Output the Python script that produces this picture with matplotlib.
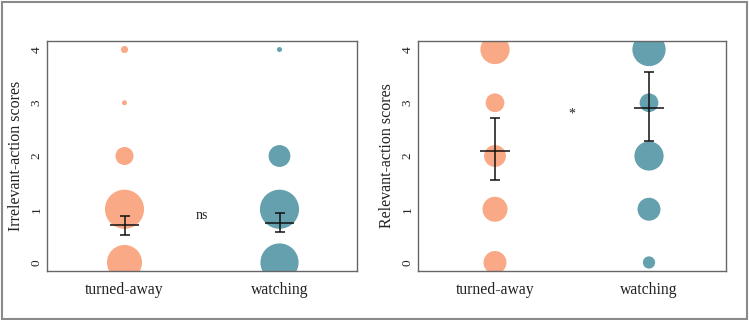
import numpy as np
import matplotlib
matplotlib.use("Agg")
import matplotlib.pyplot as plt
from matplotlib.patches import Rectangle

plt.rcParams['font.family'] = ['Liberation Serif', 'DejaVu Serif']

groups = ["turned-away", "watching"]
scores = [0, 1, 2, 3, 4]

# counts per score (bubble area)
irr_turned = [49, 61, 13, 1, 2]
irr_watch = [58, 61, 19, 0, 1]
rel_turned = [21, 25, 19, 14, 34]
rel_watch = [6, 21, 34, 14, 44]

# mean and interval limits
irr_mean = [0.71, 0.75]
irr_lo = [0.52, 0.58]
irr_hi = [0.88, 0.93]
rel_mean = [2.10, 2.90]
rel_lo = [1.55, 2.29]
rel_hi = [2.72, 3.57]

irr_sig = "ns"
rel_sig = "*"

c_turned = "#F9A985"
c_watch = "#64A0AD"


def panel(ax, counts, means, lo, hi, sig, sig_y, ylabel):
    for i, (n, col) in enumerate(zip(counts, [c_turned, c_watch])):
        n = np.array(n, dtype=float)
        keep = n > 0
        ax.scatter(np.full(keep.sum(), i + 1), np.array(scores)[keep],
                   s=13 * n[keep], color=col, edgecolors="none", zorder=2)
    x = np.arange(1, 3)
    m = np.array(means)
    ax.errorbar(x, m, yerr=[m - np.array(lo), np.array(hi) - m], fmt="none",
                ecolor="#111111", elinewidth=1.1, capsize=3.8, capthick=1.1, zorder=3)
    ax.hlines(m, x - 0.095, x + 0.095, color="#111111", lw=1.1, zorder=3)
    ax.text(1.5, sig_y, sig, ha="center", va="center", fontsize=10, color="#222222")
    ax.set_xlim(0.5, 2.5)
    ax.set_ylim(-0.16, 4.16)
    ax.set_xticks(x)
    ax.set_xticklabels(groups, fontsize=11.3, color="#222222")
    ax.set_yticks(scores)
    ax.set_yticklabels([str(s) for s in scores], fontsize=9.5, color="#222222",
                       rotation=90, va="center")
    ax.tick_params(length=0, pad=3)
    ax.tick_params(axis="x", pad=8)
    ax.set_ylabel(ylabel, fontsize=11.5, color="#222222", labelpad=5)
    for sp in ax.spines.values():
        sp.set_color("#666666")
        sp.set_linewidth(1.0)


fig = plt.figure(figsize=(7.49, 3.2), dpi=100)
ax1 = fig.add_axes([47 / 749, 49 / 320, 310 / 749, 230 / 320])
ax2 = fig.add_axes([418 / 749, 49 / 320, 308 / 749, 230 / 320])

panel(ax1, [irr_turned, irr_watch], irr_mean, irr_lo, irr_hi, irr_sig, 0.88,
      "Irrelevant-action scores")
panel(ax2, [rel_turned, rel_watch], rel_mean, rel_lo, rel_hi, rel_sig, 2.78,
      "Relevant-action scores")

fig.patches.append(Rectangle((1.5 / 749, 1.5 / 320), 745.5 / 749, 316.5 / 320,
                             transform=fig.transFigure, fill=False,
                             edgecolor="#8a8a8a", lw=1.5))

fig.savefig("out.png", dpi=100)
